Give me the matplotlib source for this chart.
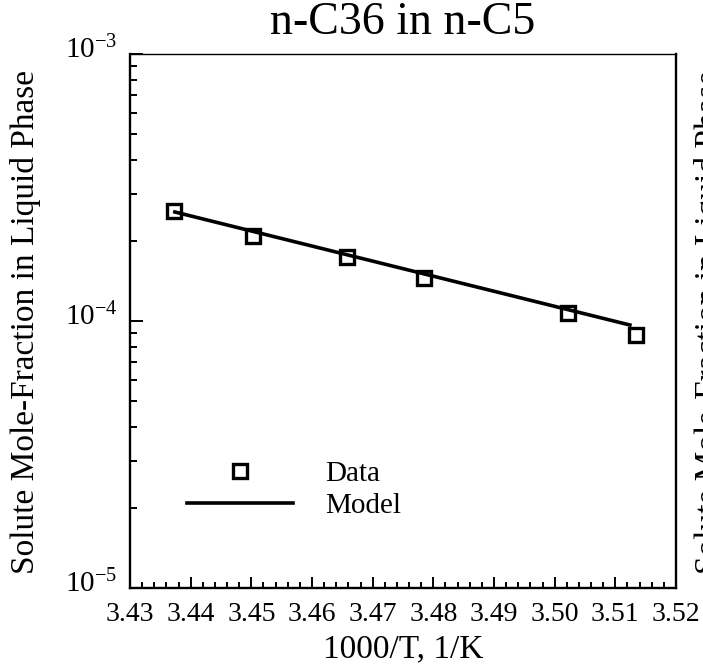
import matplotlib
matplotlib.use("Agg")
import matplotlib.pyplot as plt
import matplotlib.transforms as mtransforms
from matplotlib.ticker import LogLocator, MultipleLocator, LogFormatterMathtext

plt.rcParams["font.family"] = ["Liberation Serif", "DejaVu Serif"]
plt.rcParams["mathtext.fontset"] = "custom"
plt.rcParams["mathtext.rm"] = "Liberation Serif"
plt.rcParams["mathtext.it"] = "Liberation Serif:italic"

# data
inv_T = [3.4373, 3.4502, 3.4657, 3.4785, 3.5022, 3.5134]
x_solute = [2.58e-4, 2.08e-4, 1.74e-4, 1.45e-4, 1.07e-4, 8.87e-5]

model_inv_T = [3.4374, 3.5124]
model_x = [2.56e-4, 9.66e-5]

title = "n-C36 in n-C5"
ylabel = "Solute Mole-Fraction in Liquid Phase"
xlabel = "1000/T, 1/K"

fig = plt.figure(figsize=(7.03, 6.71), dpi=100)
ax = fig.add_axes([130 / 703, 83 / 671, 546 / 703, 534 / 671])

ax.plot(model_inv_T, model_x, color="black", lw=2.6, label="Model")
ax.plot(inv_T, x_solute, ls="none", marker="s", ms=10.5, mew=2.4,
        mfc="none", mec="black", label="Data")

ax.set_yscale("log")
ax.set_xlim(3.43, 3.52)
ax.set_ylim(1e-5, 1e-3)

ax.xaxis.set_major_locator(MultipleLocator(0.01))
ax.xaxis.set_minor_locator(MultipleLocator(0.002))
ax.xaxis.set_major_formatter(plt.FuncFormatter(lambda v, p: f"{v:.2f}"))
ax.yaxis.set_major_locator(LogLocator(base=10))
ax.yaxis.set_minor_locator(LogLocator(base=10, subs=range(2, 10)))
ax.yaxis.set_major_formatter(LogFormatterMathtext())

ax.tick_params(axis="both", which="both", direction="in", top=False, right=False,
               width=1.4, labelsize=20)
ax.tick_params(axis="y", which="major", length=9, pad=9, labelsize=21)
ax.tick_params(axis="y", which="minor", length=5)
ax.tick_params(axis="x", which="major", length=8, pad=10)
ax.tick_params(axis="x", which="minor", length=4)

# y tick labels sit a little above their ticks in the original
shift = mtransforms.ScaledTranslation(0, 7 / 100, fig.dpi_scale_trans)
for lab in ax.get_yticklabels():
    lab.set_transform(lab.get_transform() + shift)

for side in ["left", "bottom", "right"]:
    ax.spines[side].set_linewidth(1.7)
ax.spines["top"].set_linewidth(1.0)

ax.set_xlabel(xlabel, fontsize=24, labelpad=5)
fig.text(10 / 703, 1 - 322 / 671, ylabel, rotation=90, fontsize=24,
         ha="left", va="center")
# second copy of the axis label, cut off by the right edge of the page
fig.text(694 / 703, 1 - 322 / 671, ylabel, rotation=90, fontsize=24,
         ha="left", va="center")
fig.text(403 / 703, 1 - 23 / 671, title, fontsize=33, ha="center", va="center")

handles, labels = ax.get_legend_handles_labels()
ax.legend(handles[::-1], labels[::-1], frameon=False, fontsize=21,
          loc="upper left", bbox_to_anchor=(0.104, 0.238), borderpad=0,
          borderaxespad=0, handlelength=3.65, handletextpad=1.1,
          labelspacing=0.18)

fig.savefig("out.png", dpi=100)
